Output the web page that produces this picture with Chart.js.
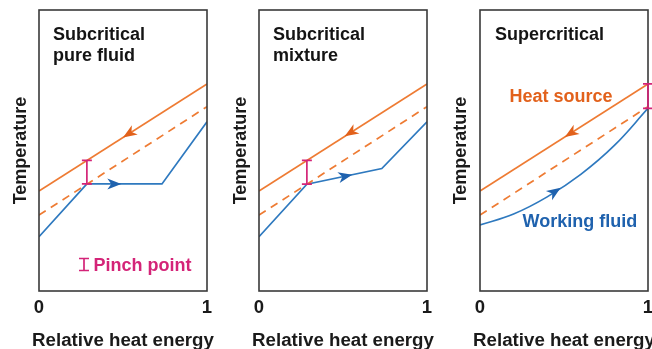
<!DOCTYPE html>
<html>
<head>
<meta charset="utf-8">
<script src="https://cdn.jsdelivr.net/npm/chart.js@4.4.1/dist/chart.umd.min.js"></script>
<style>
  html, body { margin: 0; padding: 0; background: #fff; overflow: hidden; width: 652px; height: 349px; }
  .panel { position: absolute; top: 0; width: 220px; height: 349px; }
</style>
</head>
<body>
<div class="panel" style="left:0"><canvas id="c1" width="220" height="349"></canvas></div>
<div class="panel" style="left:220px"><canvas id="c2" width="220" height="349"></canvas></div>
<div class="panel" style="left:440px"><canvas id="c3" width="220" height="349"></canvas></div>
<script>
// Pinch point diagrams: heat source vs working fluid, temperature on a 0-100 scale

const xTicks = [0, 1];
const xTitle = 'Relative heat energy';
const sourceX = [0, 1];
const sourceT = [35.6, 73.7];        // heat source (solid)
const shiftedT = [27.0, 65.6];       // heat source minus pinch (dashed)

const pureX = [0, 0.285, 0.732, 1];
const pureT = [19.3, 38.1, 38.1, 60.2];
const mixX = [0, 0.285, 0.731, 1];
const mixT = [19.3, 38.0, 43.6, 60.2];
const superX = [0, 0.2, 0.4, 0.6, 0.8, 1];
const superT = [23.5, 27.4, 33.5, 41.5, 51.8, 65.0];

const pinchX = [0.285, 0.285, 1];
const pinchLo = [38.1, 38.0, 65.0];
const pinchHi = [46.5, 46.5, 73.7];

const sourceArrowX = [0.50, 0.51, 0.505];  // arrow tips, pointing to lower x
const fluidArrowX = [0.49, 0.555, 0.48];   // arrow tips, pointing to higher x

const FONT = '"Liberation Sans", Arial, Helvetica, sans-serif';
const ORANGE = '#EE7B33';
const ORANGE_DARK = '#E2611B';
const BLUE = '#2E79BF';
const BLUE_DARK = '#1F62AE';
const PINK = '#D42478';

const panels = [
  { id: 'c1', fx: pureX, ft: pureT, yWidth: 39, padRight: 13,
    labels: [
      { t: 'Subcritical', dx: 14, y: 40, c: '#141414' },
      { t: 'pure fluid', dx: 14, y: 61, c: '#141414' },
      { t: 'Pinch point', dx: 54.5, y: 270.5, c: PINK },
    ], legendIcon: true },
  { id: 'c2', fx: mixX, ft: mixT, yWidth: 39, padRight: 13,
    labels: [
      { t: 'Subcritical', dx: 14, y: 40, c: '#141414' },
      { t: 'mixture', dx: 14, y: 61, c: '#141414' },
    ] },
  { id: 'c3', fx: superX, ft: superT, yWidth: 40, padRight: 12, curved: true,
    labels: [
      { t: 'Supercritical', dx: 15, y: 40, c: '#141414' },
      { t: 'Heat source', dx: 29.5, y: 101.5, c: ORANGE_DARK },
      { t: 'Working fluid', dx: 42.5, y: 226.5, c: BLUE_DARK },
    ] },
];

const pts = (xs, ys) => xs.map((x, i) => ({ x, y: ys[i] }));

function interp(xs, ys, x) {
  for (let i = 1; i < xs.length; i++) {
    if (x <= xs[i]) {
      const f = (x - xs[i - 1]) / (xs[i] - xs[i - 1]);
      return ys[i - 1] + f * (ys[i] - ys[i - 1]);
    }
  }
  return ys[ys.length - 1];
}

function drawArrow(ctx, chart, xs, ys, x, dir, color) {
  const sx = chart.scales.x, sy = chart.scales.y;
  const tx = sx.getPixelForValue(x), ty = sy.getPixelForValue(interp(xs, ys, x));
  const bx = sx.getPixelForValue(x - dir * 0.03), by = sy.getPixelForValue(interp(xs, ys, x - dir * 0.03));
  const ang = Math.atan2(ty - by, tx - bx);
  const L = 14, W = 11;
  ctx.save();
  ctx.translate(tx, ty);
  ctx.rotate(ang);
  ctx.fillStyle = color;
  ctx.beginPath();
  ctx.moveTo(0, 0);
  ctx.lineTo(-L, -W / 2);
  ctx.lineTo(-L * 0.72, 0);
  ctx.lineTo(-L, W / 2);
  ctx.closePath();
  ctx.fill();
  ctx.restore();
}

function drawPinch(ctx, x, y1, y2) {
  ctx.save();
  ctx.strokeStyle = PINK;
  ctx.lineWidth = 1.7;
  ctx.beginPath();
  ctx.moveTo(x, y1); ctx.lineTo(x, y2);
  ctx.moveTo(x - 5, y1); ctx.lineTo(x + 5, y1);
  ctx.moveTo(x - 5, y2); ctx.lineTo(x + 5, y2);
  ctx.stroke();
  ctx.restore();
}

const decorPlugin = {
  id: 'decor',
  afterDatasetsDraw(chart, args, opts) {
    const { ctx, chartArea: a } = chart;
    const p = opts.panel, i = opts.index;
    const sx = chart.scales.x, sy = chart.scales.y;

    // frame
    ctx.save();
    ctx.strokeStyle = '#3a3a3a';
    ctx.lineWidth = 1.6;
    ctx.strokeRect(a.left, a.top, a.right - a.left, a.bottom - a.top);
    ctx.restore();

    drawArrow(ctx, chart, sourceX, sourceT, sourceArrowX[i], -1, ORANGE_DARK);
    drawArrow(ctx, chart, p.fx, p.ft, fluidArrowX[i], 1, BLUE_DARK);

    drawPinch(ctx, sx.getPixelForValue(pinchX[i]), sy.getPixelForValue(pinchHi[i]), sy.getPixelForValue(pinchLo[i]));

    ctx.save();
    ctx.font = 'bold 18px ' + FONT;
    ctx.textBaseline = 'alphabetic';
    ctx.textAlign = 'left';
    p.labels.forEach(l => {
      ctx.fillStyle = l.c;
      ctx.fillText(l.t, a.left + l.dx, l.y);
    });
    // x-axis title, wider than the plot frame so drawn here without squeezing
    ctx.font = 'bold 18.7px ' + FONT;
    ctx.textAlign = 'center';
    ctx.fillStyle = '#1a1a1a';
    ctx.fillText(xTitle, (a.left + a.right) / 2, 345.5);
    ctx.restore();

    if (p.legendIcon) drawPinch(ctx, a.left + 45, 258.5, 270.5);
  }
};

panels.forEach((p, i) => {
  new Chart(document.getElementById(p.id), {
    type: 'line',
    data: {
      datasets: [
        { data: pts(sourceX, sourceT), borderColor: ORANGE, borderWidth: 1.7, pointRadius: 0 },
        { data: pts(sourceX, shiftedT), borderColor: ORANGE, borderWidth: 1.7, borderDash: [8, 6], pointRadius: 0 },
        { data: pts(p.fx, p.ft), borderColor: BLUE, borderWidth: 1.7, pointRadius: 0, tension: p.curved ? 0.4 : 0 },
      ]
    },
    options: {
      responsive: false,
      animation: false,
      events: [],
      layout: { padding: { top: 10, right: p.padRight, left: 0, bottom: 0 } },
      plugins: { legend: { display: false }, tooltip: { enabled: false }, decor: { panel: p, index: i } },
      scales: {
        x: {
          type: 'linear', min: 0, max: 1,
          afterBuildTicks: (s) => { s.ticks = xTicks.map(v => ({ value: v })); },
          afterFit: (s) => { s.height = 58; },
          grid: { display: false, drawTicks: false },
          border: { display: false },
          ticks: { padding: 6, color: '#1a1a1a', font: { family: FONT, size: 18.5, weight: 'bold' } },
          title: { display: false }
        },
        y: {
          min: 0, max: 100,
          afterFit: (s) => { s.width = p.yWidth; },
          grid: { display: false, drawTicks: false },
          border: { display: false },
          ticks: { display: false },
          title: { display: true, text: 'Temperature', color: '#1a1a1a', padding: { top: 10.5, bottom: 0 },
                   font: { family: FONT, size: 18, weight: 'bold' } }
        }
      }
    },
    plugins: [decorPlugin]
  });
});
</script>
</body>
</html>
